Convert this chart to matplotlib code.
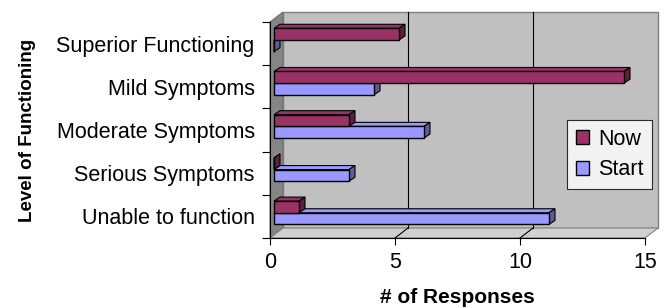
import matplotlib.pyplot as plt
from matplotlib.patches import Polygon, Patch
import numpy as np

plt.rcParams['font.family'] = ['Liberation Sans', 'DejaVu Sans']

# data
categories = ['Unable to function', 'Serious Symptoms', 'Moderate Symptoms',
              'Mild Symptoms', 'Superior Functioning']
now = [1, 0, 3, 14, 5]
start = [11, 3, 6, 4, 0]
xticks = [0, 5, 10, 15]

c_now = '#993366'
c_now_side = '#5e1f3f'
c_start = '#9999ff'
c_start_side = '#5c5c99'

fig = plt.figure(figsize=(6.7, 3.08), dpi=100)
# front plane of the pseudo-3d chart
ax = fig.add_axes([270 / 670, 70 / 308, 375 / 670, 216 / 308])
ax.set_xlim(0, 15)
ax.set_ylim(-0.5, 4.5)

pxx = 15 / 375          # data units per pixel, x
pxy = 5 / 216           # data units per pixel, y
wx, wy = 13 * pxx, 10 * pxy   # wall depth offset
bx, by = 6 * pxx, 4 * pxy     # bar depth offset

for s in ax.spines.values():
    s.set_visible(False)
ax.set_facecolor('none')

def poly(pts, fc, ec='black', lw=0.8, z=1):
    ax.add_patch(Polygon(pts, closed=True, facecolor=fc, edgecolor=ec,
                         linewidth=lw, clip_on=False, zorder=z))

# back wall, side wall, floor
poly([(wx, -0.5 + wy), (15 + wx, -0.5 + wy), (15 + wx, 4.5 + wy), (wx, 4.5 + wy)],
     '#c0c0c0', ec='#808080', lw=1.0)
poly([(0, -0.5), (wx, -0.5 + wy), (wx, 4.5 + wy), (0, 4.5)], '#858585', ec='#707070')
poly([(0, -0.5), (15, -0.5), (15 + wx, -0.5 + wy), (wx, -0.5 + wy)],
     '#d0d0d0', ec='#808080')

for t in xticks[1:-1]:
    ax.plot([t + wx, t + wx], [-0.5 + wy, 4.5 + wy], color='black', lw=0.8,
            zorder=1.5, clip_on=False)
    ax.plot([t, t + wx], [-0.5, -0.5 + wy], color='black', lw=0.8,
            zorder=1.5, clip_on=False)

# bars
h = 0.27
x0 = 4 * pxx
y_off = 3 * pxy

def bar3d(v, yc, fc, sc):
    y0, y1 = yc - h / 2, yc + h / 2
    x1 = x0 + v
    poly([(x0, y1), (x1, y1), (x1 + bx, y1 + by), (x0 + bx, y1 + by)], fc, lw=0.8, z=3)
    poly([(x1, y0), (x1 + bx, y0 + by), (x1 + bx, y1 + by), (x1, y1)], sc, lw=0.8, z=3)
    poly([(x0, y0), (x1, y0), (x1, y1), (x0, y1)], fc, lw=1.0, z=3)

ypos = np.arange(len(categories))
for i in range(len(categories)):
    bar3d(start[i], ypos[i] - 0.12 + y_off, c_start, c_start_side)
for i in range(len(categories)):
    bar3d(now[i], ypos[i] + 0.15 + y_off, c_now, c_now_side)

# axes lines and ticks
ax.plot([0, 0], [-0.5, 4.5], color='black', lw=0.8, clip_on=False, zorder=4)
ax.plot([0, 15], [-0.5, -0.5], color='black', lw=0.8, clip_on=False, zorder=4)
ax.set_yticks(np.arange(-0.5, 5, 1))
ax.set_yticklabels([])
ax.set_yticks(ypos, minor=True)
ax.set_yticklabels(categories, minor=True, fontsize=15.5)
ax.tick_params(axis='y', which='major', length=6, width=0.8, direction='out')
ax.tick_params(axis='y', which='minor', length=0, pad=11)
ax.set_xticks(xticks)
ax.set_xticklabels([str(t) for t in xticks], fontsize=15.5)
ax.tick_params(axis='x', length=5, width=0.8, pad=5)

ax.set_xlabel('# of Responses', fontsize=15, fontweight='bold', labelpad=11)
ax.set_ylabel('Level of Functioning', fontsize=13.5, fontweight='bold', labelpad=15)

# legend
handles = [Patch(facecolor=c_now, edgecolor='black'),
           Patch(facecolor=c_start, edgecolor='black')]
leg = fig.legend(handles, ['Now', 'Start'], loc='upper left',
                 bbox_to_anchor=(567 / 670, 1 - 120 / 308), fontsize=15.5,
                 frameon=True, fancybox=False, edgecolor='black',
                 handlelength=0.6, handleheight=0.6, handletextpad=0.45,
                 borderpad=0.4, labelspacing=0.45, borderaxespad=0)
leg.get_frame().set_linewidth(0.8)

fig.savefig('out.png', dpi=100)
